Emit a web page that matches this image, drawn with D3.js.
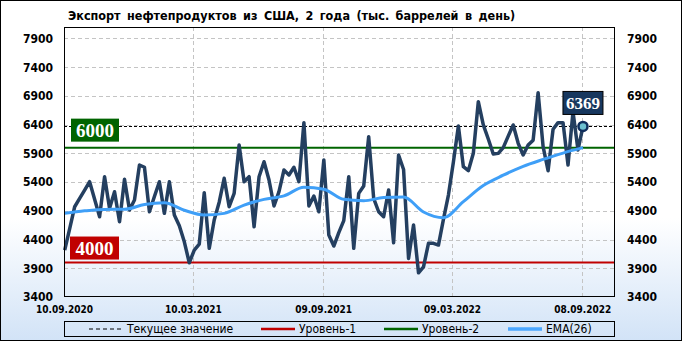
<!DOCTYPE html>
<html>
<head>
<meta charset="utf-8">
<script src="https://cdnjs.cloudflare.com/ajax/libs/d3/7.8.5/d3.min.js"></script>
<style>
  body { margin: 0; background: #fff; }
</style>
</head>
<body>
<div id="chart"></div>
<script>
const title = 'Экспорт нефтепродуктов из США, 2 года (тыс. баррелей в день)';

// weekly values, first week and the values
const startDate = '2020-09-11';
const exportValues = [
  4217, 4590, 4971, 5117, 5262, 5407, 5100, 4797, 5494, 4943,
  5233, 4710, 5449, 4914, 5088, 5698, 5658, 4884, 5150, 5407,
  4856, 5407, 4827, 4640, 4360, 3996, 4217, 4322, 5215, 4247,
  4740, 5050, 5466, 4971, 5204, 6046, 5407, 5494, 4623, 5494,
  5755, 5437, 4984, 5233, 5611, 5524, 5658, 5407, 6435, 4984,
  5158, 4884, 5785, 4478, 4287, 4520, 4730, 5494, 4247, 5204,
  5332, 6191, 5117, 4884, 4797, 5262, 4345, 5872, 5620, 4072,
  4653, 3822, 3926, 4334, 4334, 4304, 4750, 5175, 5750, 6377,
  5668, 5599, 5902, 6800, 6395, 6150, 5890, 5900, 6000, 6200,
  6395, 6075, 5872, 6046, 6130, 6957, 6017, 5599, 6320, 6435,
  6435, 5698, 6626, 5959, 6369
];

// EMA(26) read every 4th week
const emaWeeks = [0, 4, 8, 12, 16, 20, 24, 28, 32, 36, 40, 44, 48, 52,
  56, 60, 64, 68, 72, 76, 80, 84, 88, 92, 96, 100, 104];
const emaValues = [4856, 4900, 4925, 4926, 5010, 5041, 4910, 4827, 4856, 5000,
  5100, 5160, 5310, 5275, 5100, 5076, 5130, 5140, 4880, 4780,
  5060, 5340, 5520, 5675, 5795, 5905, 6000];

const tickDates = ['2020-09-10', '2021-03-10', '2021-09-09', '2022-03-09', '2022-09-08'];
const yTicks = [3400, 3900, 4400, 4900, 5400, 5900, 6400, 6900, 7400, 7900];
const level1 = 4000;
const level2 = 6000;
const legendNames = ['Текущее значение', 'Уровень-1', 'Уровень-2', 'EMA(26)'];

const W = 682, H = 341;
const m = { top: 27, right: 67, bottom: 44, left: 64 };
const parse = d3.utcParse('%Y-%m-%d');
const fmt = d3.utcFormat('%d.%m.%Y');
const boldFont = "'DejaVu Sans Condensed', 'DejaVu Sans', sans-serif";
const serif = "'Liberation Serif', 'DejaVu Serif', serif";

const start = parse(startDate);
const data = exportValues.map((v, i) => ({ date: d3.utcDay.offset(start, 7 * i), value: v }));
const ema = emaWeeks.map((w, i) => ({ date: data[w].date, value: emaValues[i] }));
const last = data[data.length - 1];

const x = d3.scaleUtc()
  .domain([parse('2020-09-10'), parse('2022-10-24')])
  .range([m.left, W - m.right]);
const y = d3.scaleLinear()
  .domain([3400, 8100])
  .range([H - m.bottom, m.top]);

const svg = d3.select('#chart').append('svg')
  .attr('width', W)
  .attr('height', H);

// background
const grad = svg.append('defs').append('linearGradient')
  .attr('id', 'bg').attr('x1', 0).attr('y1', 0).attr('x2', 0).attr('y2', 1);
grad.append('stop').attr('offset', '0%').attr('stop-color', '#ffffff');
grad.append('stop').attr('offset', '64%').attr('stop-color', '#ffffff');
grad.append('stop').attr('offset', '100%').attr('stop-color', '#d2e3f7');
svg.append('rect')
  .attr('x', 0.5).attr('y', 0.5)
  .attr('width', W - 1).attr('height', H - 1)
  .attr('fill', 'url(#bg)')
  .attr('stroke', '#000');

svg.append('text')
  .attr('x', 68).attr('y', 20)
  .attr('font-family', boldFont)
  .attr('font-weight', 'bold')
  .attr('font-size', 12.5)
  .attr('word-spacing', 2.5)
  .attr('fill', '#000')
  .text(title);

// grid
const grid = svg.append('g')
  .attr('stroke', '#c4c4c4')
  .attr('stroke-dasharray', '4,3');
grid.selectAll('.hg')
  .data(yTicks.slice(1))
  .enter().append('line')
  .attr('x1', m.left).attr('x2', W - m.right)
  .attr('y1', d => Math.round(y(d)) + 0.5)
  .attr('y2', d => Math.round(y(d)) + 0.5);
grid.selectAll('.vg')
  .data(tickDates.slice(1))
  .enter().append('line')
  .attr('x1', d => Math.round(x(parse(d))) + 0.5)
  .attr('x2', d => Math.round(x(parse(d))) + 0.5)
  .attr('y1', m.top).attr('y2', H - m.bottom);

// levels and current value
svg.append('line')
  .attr('x1', m.left).attr('x2', W - m.right)
  .attr('y1', y(level1)).attr('y2', y(level1))
  .attr('stroke', '#c00000').attr('stroke-width', 2);
svg.append('line')
  .attr('x1', m.left).attr('x2', W - m.right)
  .attr('y1', y(level2)).attr('y2', y(level2))
  .attr('stroke', '#006400').attr('stroke-width', 2);
svg.append('line')
  .attr('x1', m.left).attr('x2', W - m.right)
  .attr('y1', Math.round(y(last.value)) + 0.5).attr('y2', Math.round(y(last.value)) + 0.5)
  .attr('stroke', '#000').attr('stroke-dasharray', '3,2');

// series
const line = d3.line().x(d => x(d.date)).y(d => y(d.value));
svg.append('path')
  .datum(data)
  .attr('fill', 'none')
  .attr('stroke', '#243f60')
  .attr('stroke-width', 3.5)
  .attr('stroke-linejoin', 'round')
  .attr('d', line);
svg.append('path')
  .datum(ema)
  .attr('fill', 'none')
  .attr('stroke', '#3f9ff7')
  .attr('stroke-width', 3)
  .attr('d', line.curve(d3.curveMonotoneX));

svg.append('circle')
  .attr('cx', x(last.date)).attr('cy', y(last.value))
  .attr('r', 4.5)
  .attr('fill', '#6cc0d0')
  .attr('stroke', '#0f2d5c')
  .attr('stroke-width', 2.5);

// value tags
function tag(left, top, w, text, fill, size) {
  const g = svg.append('g');
  g.append('rect')
    .attr('x', left).attr('y', top)
    .attr('width', w).attr('height', 23)
    .attr('fill', fill)
    .attr('stroke', fill === '#17375e' ? '#000' : 'none');
  g.append('text')
    .attr('x', left + w / 2).attr('y', top + 18)
    .attr('text-anchor', 'middle')
    .attr('font-family', serif)
    .attr('font-weight', 'bold')
    .attr('font-size', size)
    .attr('fill', '#fff')
    .text(text);
}
tag(m.left + 7, y(level2) - 29, 48, level2, '#006400', 19);
tag(m.left + 6, y(level1) - 26, 49, level1, '#c00000', 19);
tag(x(last.date) - 20, y(last.value) - 35, 40, last.value, '#17375e', 17);

// frame
svg.append('rect')
  .attr('x', m.left + 0.5).attr('y', m.top + 0.5)
  .attr('width', W - m.left - m.right - 1)
  .attr('height', H - m.top - m.bottom - 1)
  .attr('fill', 'none').attr('stroke', '#000');

// axes
function styleAxis(g, size) {
  g.select('.domain').remove();
  g.selectAll('text')
    .attr('font-family', boldFont)
    .attr('font-weight', 'bold')
    .attr('font-size', size)
    .attr('fill', '#000');
}
svg.append('g')
  .attr('transform', `translate(${m.left},0)`)
  .call(d3.axisLeft(y).tickValues(yTicks).tickFormat(d3.format('d')).tickSize(0).tickPadding(11))
  .call(g => styleAxis(g, 12));
svg.append('g')
  .attr('transform', `translate(${W - m.right},0)`)
  .call(d3.axisRight(y).tickValues(yTicks).tickFormat(d3.format('d')).tickSize(0).tickPadding(12))
  .call(g => styleAxis(g, 12));
svg.append('g')
  .attr('transform', `translate(0,${H - m.bottom})`)
  .call(d3.axisBottom(x).tickValues(tickDates.map(parse)).tickFormat(fmt).tickSize(0).tickPadding(9))
  .call(g => styleAxis(g, 10));

// legend
const legend = svg.append('g');
legend.append('rect')
  .attr('x', m.left + 0.5).attr('y', 321.5)
  .attr('width', W - m.left - m.right - 1).attr('height', 15)
  .attr('fill', 'none').attr('stroke', '#000');
const legendX = [89, 261, 384, 508];
const legendStyle = [
  { color: '#000', width: 1, dash: '4,3' },
  { color: '#c00000', width: 2.5, dash: null },
  { color: '#006400', width: 2.5, dash: null },
  { color: '#4aa6ff', width: 3.5, dash: null }
];
legendNames.forEach((name, i) => {
  const lx = legendX[i];
  legend.append('line')
    .attr('x1', lx).attr('x2', lx + 34)
    .attr('y1', 329).attr('y2', 329)
    .attr('stroke', legendStyle[i].color)
    .attr('stroke-width', legendStyle[i].width)
    .attr('stroke-dasharray', legendStyle[i].dash);
  legend.append('text')
    .attr('x', lx + 38).attr('y', 333)
    .attr('font-family', "'DejaVu Sans Condensed', 'DejaVu Sans', sans-serif")
    .attr('font-size', 12)
    .attr('fill', '#000')
    .text(name);
});
</script>
</body>
</html>
